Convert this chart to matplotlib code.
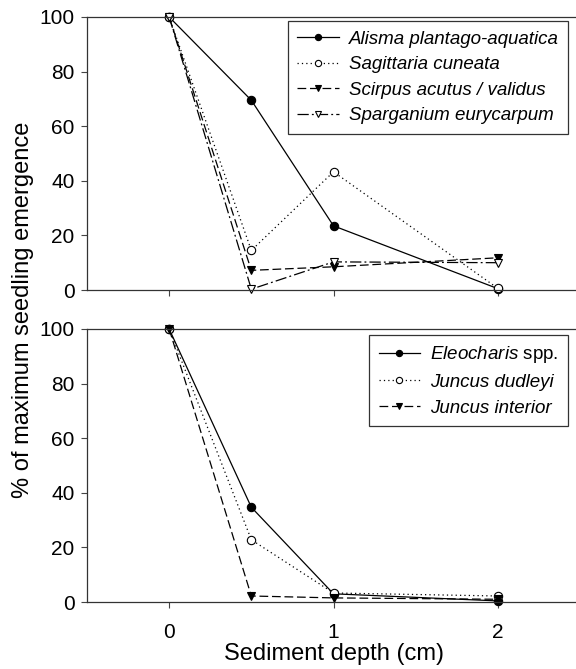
import numpy as np
import matplotlib
matplotlib.use("Agg")
import matplotlib.pyplot as plt

plt.rcParams['font.family'] = ['Liberation Sans', 'DejaVu Sans']
plt.rcParams['mathtext.fontset'] = 'custom'
plt.rcParams['mathtext.it'] = 'Liberation Sans:italic'
plt.rcParams['mathtext.rm'] = 'Liberation Sans'

depth = [0, 0.5, 1, 2]

# top panel
alisma = [100, 69.5, 23.5, 0.5]
sagittaria = [100, 14.5, 43.3, 0.6]
scirpus = [100, 7.2, 8.5, 11.8]
sparganium = [100, 0.3, 10.3, 10.0]

# bottom panel
eleocharis = [100, 34.7, 3.0, 0.4]
juncus_dud = [100, 22.8, 3.3, 2.2]
juncus_int = [100, 2.2, 1.5, 1.0]

top_labels = ['Alisma plantago-aquatica', 'Sagittaria cuneata',
              'Scirpus acutus / validus', 'Sparganium eurycarpum']
bottom_labels = [r'$\mathit{Eleocharis}$ spp.', 'Juncus dudleyi', 'Juncus interior']

xticks = [0, 1, 2]
yticks = [0, 20, 40, 60, 80, 100]

fig = plt.figure(figsize=(5.76, 6.69), dpi=100)
ax1 = fig.add_axes([87/576, 1-290/669, 493/576, 273/669])
ax2 = fig.add_axes([87/576, 1-602/669, 493/576, 273/669])

lw = 0.9
ms = 6
styles = [
    dict(ls='-', marker='o', mfc='black', mec='black'),
    dict(ls=(0, (1, 2.5)), marker='o', mfc='white', mec='black'),
    dict(ls=(0, (7, 3)), marker='v', mfc='black', mec='black'),
    dict(ls=(0, (9, 2.5, 1.5, 2.5)), marker='v', mfc='white', mec='black'),
]

for y, lab, st in zip([alisma, sagittaria, scirpus, sparganium], top_labels, styles):
    ax1.plot(depth, y, color='black', lw=lw, ms=ms, mew=0.8, label=lab, clip_on=False, **st)

for y, lab, st in zip([eleocharis, juncus_dud, juncus_int], bottom_labels, styles[:3]):
    ax2.plot(depth, y, color='black', lw=lw, ms=ms, mew=0.8, label=lab, clip_on=False, **st)

for ax in (ax1, ax2):
    ax.set_xlim(-0.5, 2.5)
    ax.set_ylim(0, 100)
    ax.set_xticks(xticks)
    ax.set_yticks(yticks)
    ax.spines['right'].set_visible(False)
    for s in ('left', 'top', 'bottom'):
        ax.spines[s].set_linewidth(0.9)
        ax.spines[s].set_color('#333333')
    ax.tick_params(direction='out', length=4, width=0.8, labelsize=15, pad=5, color='#444444')

ax1.tick_params(axis='x', labelbottom=False)
ax2.tick_params(axis='x', pad=11)
ax2.set_xlabel('Sediment depth (cm)', fontsize=17, labelpad=1)
fig.text(23/576, 1-310/669, '% of maximum seedling emergence', rotation=90,
         fontsize=17, ha='center', va='center')

leg_kw = dict(loc='upper right', borderaxespad=0, fancybox=False, framealpha=1,
              edgecolor='#333333', fontsize=13.5, handlelength=2.2, handletextpad=0.55,
              labelspacing=0.45, borderpad=0.5, numpoints=1, markerscale=0.75)
leg1 = ax1.legend(bbox_to_anchor=(0.976, 0.985), **leg_kw)
leg2 = ax2.legend(bbox_to_anchor=(0.976, 0.978), **leg_kw)
for leg in (leg1, leg2):
    leg.get_frame().set_linewidth(0.9)
for t in leg1.get_texts():
    t.set_style('italic')
for t in leg2.get_texts()[1:]:
    t.set_style('italic')

fig.savefig('out.png', dpi=100)
